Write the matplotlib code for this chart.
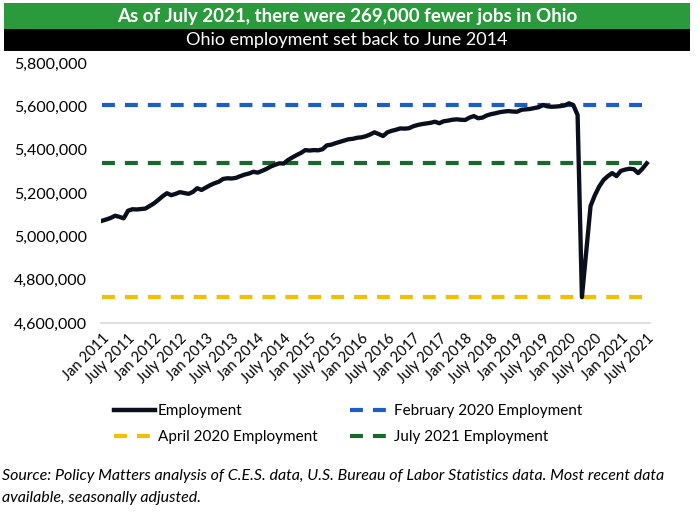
import matplotlib
matplotlib.use("Agg")
import matplotlib.pyplot as plt
from matplotlib.patches import Rectangle
from matplotlib.lines import Line2D

title = "As of July 2021, there were 269,000 fewer jobs in Ohio"
subtitle = "Ohio employment set back to June 2014"
source = ("Source: Policy Matters analysis of C.E.S. data, U.S. Bureau of Labor Statistics data. Most recent data\n"
          "available, seasonally adjusted.")

# Monthly Ohio employment, Jan 2011 - July 2021 (thousands)
employment_k = [
    5072, 5078, 5085, 5095, 5090, 5083, 5118, 5125, 5124, 5126, 5128, 5140,   # 2011
    5152, 5168, 5185, 5199, 5190, 5196, 5204, 5200, 5196, 5205, 5222, 5214,   # 2012
    5225, 5236, 5245, 5252, 5265, 5268, 5267, 5270, 5278, 5285, 5290, 5298,   # 2013
    5294, 5302, 5311, 5322, 5330, 5337, 5336, 5352, 5364, 5375, 5385, 5398,   # 2014
    5396, 5398, 5397, 5402, 5420, 5423, 5430, 5436, 5442, 5448, 5450, 5455,   # 2015
    5457, 5462, 5470, 5480, 5472, 5463, 5480, 5487, 5492, 5498, 5497, 5499,   # 2016
    5508, 5514, 5518, 5521, 5524, 5529, 5522, 5531, 5534, 5538, 5540, 5538,   # 2017
    5537, 5548, 5555, 5545, 5548, 5558, 5564, 5568, 5573, 5576, 5578, 5576,   # 2018
    5575, 5584, 5586, 5588, 5592, 5596, 5606, 5600, 5598, 5599, 5601, 5604,   # 2019
    5614, 5606, 5560, 4719, 4930, 5140, 5190, 5230, 5260, 5278, 5292, 5278,   # 2020
    5302, 5308, 5312, 5310, 5292, 5312, 5337,                                 # 2021
]
feb2020_k = 5606
apr2020_k = 4719
jul2021_k = 5337

tick_labels = []
for yr in range(2011, 2022):
    tick_labels += [f"Jan {yr}", f"July {yr}"]

y_ticks = [4600000, 4800000, 5000000, 5200000, 5400000, 5600000, 5800000]

FONT = "Lato"
C_EMP = "#0b0e1c"
C_FEB = "#1a5fc4"
C_APR = "#f2c000"
C_JUL = "#17692c"

W, H = 700, 512
fig = plt.figure(figsize=(W / 100, H / 100), dpi=100)

# Header bars
fig.add_artist(Rectangle((4 / W, 1 - 29 / H), 686 / W, 26 / H, transform=fig.transFigure,
                         facecolor="#2a9a3c", edgecolor="none"))
fig.add_artist(Rectangle((4 / W, 1 - 51 / H), 686 / W, 22 / H, transform=fig.transFigure,
                         facecolor="#000000", edgecolor="none"))
fig.text(347 / W, 1 - 16.5 / H, title, color="white", fontsize=13.5, fontweight="bold",
         family=FONT, ha="center", va="center")
fig.text(347 / W, 1 - 40 / H, subtitle, color="white", fontsize=13, family=FONT,
         ha="center", va="center")

ax = fig.add_axes([101 / W, 1 - 323 / H, 549 / W, 260 / H])
x = list(range(len(employment_k)))
emp = [v * 1000 for v in employment_k]
n = len(emp)

dash_kw = dict(linewidth=3.0, dashes=(3.1, 2.4), dash_capstyle="butt")
ax.plot([0, n - 1], [feb2020_k * 1000] * 2, color=C_FEB, label="February 2020 Employment", **dash_kw)
ax.plot([0, n - 1], [apr2020_k * 1000] * 2, color=C_APR, label="April 2020 Employment", **dash_kw)
ax.plot([0, n - 1], [jul2021_k * 1000] * 2, color=C_JUL, label="July 2021 Employment", **dash_kw)
ax.plot(x, emp, color=C_EMP, linewidth=3.1, solid_joinstyle="round", label="Employment")

ax.set_xlim(-0.25, n - 1 + 0.75)
ax.set_ylim(4600000, 5800000)
ax.set_yticks(y_ticks)
ax.set_yticklabels([f"{v:,}" for v in y_ticks], family=FONT, fontsize=11.5)
ax.set_xticks(list(range(0, n, 6)))
ax.set_xticklabels(tick_labels, rotation=45, ha="right", rotation_mode="anchor",
                   family=FONT, fontsize=10.5)
ax.tick_params(axis="both", length=0, pad=6)
ax.tick_params(axis="y", pad=10)
for s in ["top", "right", "left"]:
    ax.spines[s].set_visible(False)
ax.spines["bottom"].set_color("#d9d9d9")
ax.spines["bottom"].set_linewidth(1.2)

handles = [
    Line2D([], [], color=C_EMP, linewidth=3.2),
    Line2D([], [], color=C_APR, **dash_kw),
    Line2D([], [], color=C_FEB, **dash_kw),
    Line2D([], [], color=C_JUL, **dash_kw),
]
labels = ["Employment", "April 2020 Employment", "February 2020 Employment", "July 2021 Employment"]
fig.legend(handles, labels, loc="center left", bbox_to_anchor=(100 / W, 1 - 424 / H), ncol=2,
           frameon=False, prop={"family": FONT, "size": 11}, handlelength=2.7,
           handletextpad=0.2, columnspacing=2.1, labelspacing=0.8)

fig.text(2 / W, 1 - 487 / H, source, family=FONT, fontsize=11.5, style="italic",
         ha="left", va="center", linespacing=1.75)

fig.savefig("out.png", dpi=100)
